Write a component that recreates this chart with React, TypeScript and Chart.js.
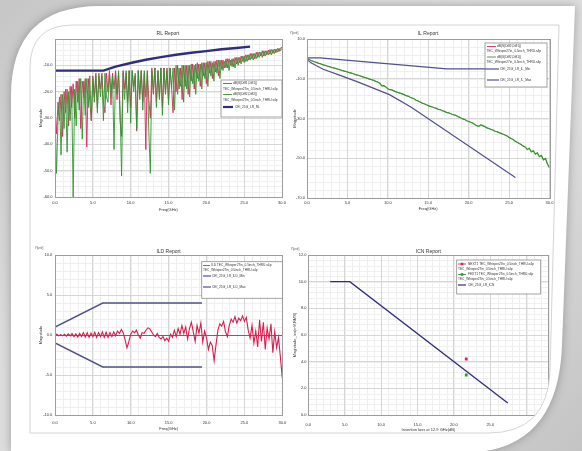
import React, { useEffect, useRef } from 'react';
import { Chart, registerables } from 'chart.js';

Chart.register(...registerables);

const FONT = '"Liberation Sans", Arial, sans-serif';
const TICK_FS = 4;
const AXIS_FS = 4;
const TITLE_FS = 5;
const LEG_FS = 3.2;

const RED = '#d8285a';
const GREEN = '#2f962f';
const NAVY = '#2e2e7c';
const SLATE = '#50508e';

// ---------------- RL Report ----------------
const RL_STEP_GHZ = 0.2;
const rlDiff1 = [
  -26, -36, -24, -31, -21, -37, -20, -28, -19, -33,
  -18, -26, -17, -30, -16, -24, -15, -34, -16, -22,
  -15, -41, -15, -24, -31, -14, -22, -13, -26, -14,
  -19, -13, -24, -28, -13, -20, -12, -25, -13, -19,
  -12, -23, -13, -31, -37, -12, -19, -13, -24, -12,
  -26, -12, -18, -14, -35, -12, -21, -12, -24, -13,
  -42, -12, -23, -30, -11, -21, -11, -24, -12, -22,
  -11, -26, -11, -20, -11, -23, -11, -18, -28, -11,
  -20, -10, -19, -11, -23, -10, -18, -10, -21, -10,
  -16, -9.5, -19, -9.5, -15, -9.5, -18, -9, -14, -9,
  -17, -8.5, -13, -8.5, -15, -8.5, -12.5, -8, -14, -8,
  -11.5, -8, -11, -7.5, -11, -7.5, -10, -7.5, -10.5, -7,
  -9.5, -7, -9, -6.5, -8.5, -6.5, -8.5, -6, -8, -5.5,
  -7.5, -5.5, -7.5, -5, -7, -5, -6.5, -4.5, -6.5, -4.5,
  -6, -4.2, -5.8, -4, -5.5, -3.8, -5.2, -3.6, -4.8, -3.4,
  -3.2,
];
const rlDiff2 = [
  -27, -51, -30, -22, -44, -21, -34, -19, -43, -20,
  -31, -18, -60, -19, -33, -16, -27, -15, -38, -16,
  -29, -15, -26, -14, -31, -15, -24, -14, -28, -13,
  -22, -14, -31, -13, -22, -24, -13, -20, -14, -42,
  -13, -21, -12, -26, -52, -13, -23, -12, -28, -12,
  -32, -12, -20, -13, -34, -12, -23, -12, -27, -12,
  -22, -13, -35, -51, -12, -20, -11, -26, -12, -23,
  -11, -29, -11, -21, -12, -25, -11, -19, -11, -27,
  -10, -21, -11, -18, -10, -24, -10, -19, -10, -22,
  -9.5, -17, -10, -21, -9, -16, -9.5, -19, -9, -15,
  -9, -18, -8.5, -14, -9, -16, -8.5, -13, -8, -15,
  -8, -12, -8.5, -11, -7.5, -12, -8, -10.5, -7.5, -11,
  -7, -10, -7, -9.5, -6.5, -9, -6, -8.5, -6, -8,
  -5.5, -8, -5.5, -7.5, -5, -7, -5, -7, -4.5, -6.5,
  -4.5, -6, -4, -6, -4, -5.5, -3.8, -5, -3.5, -4.5,
  -3.5,
];
const rlLimitFreq = [0, 6.4, 8, 10, 12, 14, 16, 18, 20, 22, 24, 25.78];
const rlLimitDb = [-12, -12, -10.5, -9.1, -7.9, -6.9, -6.0, -5.2, -4.6, -3.9, -3.4, -2.9];

// ---------------- IL Report ----------------
const IL_STEP_GHZ = 0.25;
const ilThru = [
  0.2, -0.3, -0.8, -1.2, -1.6, -1.9, -2.3, -2.6,
  -3.0, -3.3, -3.6, -3.9, -4.2, -4.5, -4.8, -5.1,
  -5.4, -5.7, -6.0, -6.3, -6.6, -6.9, -7.2, -7.5,
  -7.9, -8.2, -8.5, -8.8, -9.2, -9.5, -9.8, -10.2,
  -10.5, -10.8, -11.3, -11.6, -12.2, -13.6, -13.5, -14.1,
  -15.0, -15.5, -15.6, -16.1, -16.6, -16.9, -17.2, -17.6,
  -18.0, -18.5, -18.7, -19.3, -19.7, -20.1, -20.8, -21.2,
  -21.7, -22.3, -22.6, -23.1, -23.5, -23.9, -24.2, -24.6,
  -24.9, -25.4, -25.6, -26.1, -26.4, -26.9, -27.2, -27.5,
  -28.0, -28.2, -28.6, -29.2, -29.6, -30.2, -30.5, -31.1,
  -31.5, -31.9, -32.3, -33.0, -33.6, -33.9, -33.2, -33.6,
  -34.1, -34.7, -35.0, -35.5, -35.8, -36.4, -36.6, -37.1,
  -37.5, -37.9, -38.3, -38.8, -39.5, -40.1, -40.6, -41.4,
  -41.9, -42.6, -43.1, -43.9, -44.3, -45.6, -45.0, -46.8,
  -46.2, -47.9, -47.3, -49.2, -48.6, -50.8, -50.1, -52.9,
  -54.7,
];
const ilMinFreq = [0, 1.6, 17.3, 25.78];
const ilMinDb = [0.5, 0.5, -5, -5];
const ilMaxFreq = [0, 0.6, 2, 4.1, 6.1, 8.2, 10.2, 12.9, 25.78];
const ilMaxDb = [-0.5, -2.2, -5.2, -8.3, -11.3, -14.7, -18, -24.3, -59.7];

// ---------------- ILD Report ----------------
const ILD_STEP_GHZ = 0.25;
const ildThru = [
  0.0, 0.1, -0.1, 0.05, -0.1, 0.1, -0.15, 0.15,
  -0.1, 0.2, -0.2, 0.15, -0.25, 0.2, -0.2, 0.3,
  -0.25, 0.3, -0.3, 0.25, -0.2, 0.35, -0.3, 0.3,
  -0.2, 0.4, -0.3, 0.35, -0.3, 0.3, -0.2, 0.4,
  -0.1, 0.5, 0.2, 0.7, 0.3, -0.6, -1.6, -0.8,
  0.1, 0.5, 0.3, 0.6, 0.0, -0.4, 0.3, 0.2,
  0.6, 0.9, 0.8, 0.4, 0.0, -0.2, 0.2, -0.3,
  -0.5, -0.2, -0.7, -0.4, -0.8, 0.1, -0.3, 0.6,
  -0.2, 0.8, 0.1, 1.2, 0.2, 1.0, -0.5, 0.8,
  1.6, 0.4, -0.8, 1.2, 0.2, 1.5, -0.9, 0.5,
  -0.4, -1.8, -0.9, -1.3, -3.2, -1.2, 0.6, 1.4,
  1.1, 1.7, 0.4, -0.2, 1.2, 2.0, 1.6, 2.3,
  1.5, 2.1, 1.8, 2.4, 1.7, 2.2, 0.6, -0.4,
  1.2, -1.0, 0.5, -1.5, 1.9, -0.8, 1.6, -1.8,
  0.9, -0.5, 1.4, -2.2, 0.4, -1.6, -0.3, -2.8,
  -5.4,
];
const ildLimitFreq = [0, 6.3, 19.4];
const ildUpperDb = [1, 4, 4];
const ildLowerDb = [-1, -4, -4];

// ---------------- ICN Report ----------------
const icnLimitIL = [3.0, 5.7, 27.4];
const icnLimitMv = [10, 10, 0.9];
const icnNextIL = [21.7];
const icnNextMv = [4.2];
const icnFextIL = [21.7];
const icnFextMv = [3.0];

const THRU = 'TEC_Whisper27in_0.5inch_THRU.s4p';

const sampled = (step: number, vals: number[]) =>
  vals.map((y, i) => ({ x: Math.round(i * step * 100) / 100, y }));
const paired = (xs: number[], ys: number[]) => xs.map((x, i) => ({ x, y: ys[i] }));

const line = (label: string, data: any[], color: string, width: number, order: number) => ({
  label,
  data,
  borderColor: color,
  backgroundColor: color,
  borderWidth: width,
  pointRadius: 0,
  tension: 0,
  order,
});

const marker = (label: string, data: any[], color: string) => ({
  label,
  data,
  showLine: false,
  borderColor: color,
  backgroundColor: color,
  pointStyle: 'rect',
  pointRadius: 2,
  borderWidth: 0,
  order: 0,
});

type Row = { y: number; text: string; tx: number; line?: [number, number, string, number]; marker?: string };

const SPECS: any[] = [
  {
    cx: 30, cy: 22, cw: 262, ch: 196,
    L: 55, T: 39, R: 282, B: 197,
    yTitleX: 41, xTitleY: 209.5, xTickPad: 3.6, yTickPad: 2.5,
    title: 'RL Report', titleX: 168, titleY: 34,
    x: { min: 0, max: 30, step: 5, minor: 1, title: 'Freq(GHz)' },
    y: { min: -60, max: 0, step: 10, minor: 2, title: 'Magnitude', hide: [0] },
    datasets: [
      line('dB(S(Diff1,Diff1))', sampled(RL_STEP_GHZ, rlDiff1), RED, 0.9, 2),
      line('dB(S(Diff2,Diff2))', sampled(RL_STEP_GHZ, rlDiff2), GREEN, 0.9, 1),
      line('CEI_25G_LR_RL', paired(rlLimitFreq, rlLimitDb), NAVY, 2.4, 0),
    ],
    legend: {
      box: [221, 80, 282, 117],
      rows: [
        { y: 83.5, tx: 233, text: 'dB(S(Diff1,Diff1))', line: [223, 232, RED, 0.9] },
        { y: 89, tx: 223, text: THRU },
        { y: 94.5, tx: 233, text: 'dB(S(Diff2,Diff2))', line: [223, 232, GREEN, 0.9] },
        { y: 100, tx: 223, text: THRU },
        { y: 107, tx: 235, text: 'CEI_25G_LR_RL', line: [223, 233, NAVY, 2.2] },
      ] as Row[],
    },
  },
  {
    cx: 288, cy: 22, cw: 272, ch: 196,
    L: 307, T: 39, R: 549.5, B: 198,
    yTitleX: 294.5, xTitleY: 209.3, xTickPad: 2.5, yTickPad: 2,
    title: 'IL Report', titleX: 428, titleY: 34,
    unit: ['Y[unit]', 294, 33],
    x: { min: 0, max: 30, step: 5, minor: 1, title: 'Freq(GHz)' },
    y: { min: -70, max: 10, step: 20, minor: 4, title: 'Magnitude' },
    datasets: [
      line('dB(S(Diff2,Diff1))', sampled(IL_STEP_GHZ, ilThru), RED, 0.6, 2),
      line('dB(S(Diff2,Diff1))', sampled(IL_STEP_GHZ, ilThru), '#2c9a2c', 1.2, 1),
      line('CEI_25G_LR_IL_Min', paired(ilMinFreq, ilMinDb), SLATE, 1.2, 0),
      line('CEI_25G_LR_IL_Max', paired(ilMaxFreq, ilMaxDb), SLATE, 1.2, 0),
    ],
    legend: {
      box: [485, 43, 547, 87],
      rows: [
        { y: 46.5, tx: 497, text: 'dB(S(Diff2,Diff1))', line: [487, 496, RED, 0.9] },
        { y: 51.5, tx: 486.5, text: THRU },
        { y: 57, tx: 497, text: 'dB(S(Diff2,Diff1))', line: [487, 496, GREEN, 0.9] },
        { y: 62, tx: 486.5, text: THRU },
        { y: 69, tx: 500, text: 'CEI_25G_LR_IL_Min', line: [485, 499, SLATE, 1.2] },
        { y: 80, tx: 500, text: 'CEI_25G_LR_IL_Max', line: [487, 499, SLATE, 1.2] },
      ] as Row[],
    },
  },
  {
    cx: 30, cy: 240, cw: 262, ch: 195,
    L: 55, T: 255, R: 282.5, B: 415,
    yTitleX: 40.7, xTitleY: 429.3, xTickPad: 5.8, yTickPad: 2.7,
    title: 'ILD Report', titleX: 168.5, titleY: 251.7,
    unit: ['Y[unit]', 39, 248.5],
    x: { min: 0, max: 30, step: 5, minor: 1, title: 'Freq(GHz)' },
    y: { min: -10, max: 10, step: 5, minor: 1, title: 'Magnitude', zero: true },
    datasets: [
      line('ILD TEC', sampled(ILD_STEP_GHZ, ildThru), '#d81e4e', 1.1, 1),
      line('CEI_25G_LR_ILD_Min', paired(ildLimitFreq, ildUpperDb), SLATE, 1.4, 0),
      line('CEI_25G_LR_ILD_Max', paired(ildLimitFreq, ildLowerDb), SLATE, 1.4, 0),
    ],
    legend: {
      box: [201.7, 261.7, 282.5, 298.3],
      rows: [
        { y: 265.5, tx: 211, text: 'ILD ' + THRU, line: [203, 210, RED, 0.9] },
        { y: 270, tx: 203, text: THRU },
        { y: 276, tx: 212, text: 'CEI_25G_LR_ILD_Min', line: [203, 211, SLATE, 1.2] },
        { y: 287, tx: 212, text: 'CEI_25G_LR_ILD_Max', line: [203, 211, SLATE, 1.2] },
      ] as Row[],
    },
  },
  {
    cx: 288, cy: 240, cw: 272, ch: 195,
    L: 308.3, T: 255, R: 548.5, B: 415,
    yTitleX: 295, xTitleY: 430, xTickPad: 7.6, yTickPad: 1.8,
    title: 'ICN Report', titleX: 428.3, titleY: 251.7,
    unit: ['Y[unit]', 295, 249.5],
    x: { min: 0, max: 33, step: 5, minor: 1, title: 'Insertion loss at 12.9 GHz(dB)', hideFrom: 30, noBounds: true },
    y: { min: 0, max: 12, step: 2, minor: 0.4, title: 'Magnitude_icn(mV,RMS)' },
    datasets: [
      marker('NEXT1', paired(icnNextIL, icnNextMv), RED),
      marker('FEXT1', paired(icnFextIL, icnFextMv), GREEN),
      line('CEI_25G_LR_ICN', paired(icnLimitIL, icnLimitMv), NAVY, 1.3, 1),
    ],
    legend: {
      box: [456.7, 260, 540.7, 294],
      rows: [
        { y: 264, tx: 468, text: 'NEXT1 ' + THRU, line: [458, 466, RED, 0.9], marker: RED },
        { y: 268.7, tx: 458, text: THRU },
        { y: 274.5, tx: 468, text: 'FEXT1 ' + THRU, line: [458, 466, GREEN, 0.9], marker: GREEN },
        { y: 279.3, tx: 458, text: THRU },
        { y: 285, tx: 468, text: 'CEI_25G_LR_ICN', line: [458, 466, NAVY, 1.2] },
      ] as Row[],
    },
  },
];

function decoPlugin(s: any) {
  return {
    id: 'deco',
    beforeDraw(chart: any) {
      const { ctx, chartArea: a, scales } = chart;
      const xs = scales.x;
      const ys = scales.y;
      ctx.save();
      ctx.fillStyle = '#ffffff';
      ctx.fillRect(a.left, a.top, a.right - a.left, a.bottom - a.top);
      ctx.strokeStyle = '#efefef';
      ctx.lineWidth = 1;
      ctx.beginPath();
      const nx = Math.round((s.x.max - s.x.min) / s.x.minor);
      for (let i = 0; i <= nx; i++) {
        const p = Math.round(xs.getPixelForValue(s.x.min + i * s.x.minor)) + 0.5;
        ctx.moveTo(p, a.top);
        ctx.lineTo(p, a.bottom);
      }
      const ny = Math.round((s.y.max - s.y.min) / s.y.minor);
      for (let i = 0; i <= ny; i++) {
        const p = Math.round(ys.getPixelForValue(s.y.min + i * s.y.minor)) + 0.5;
        ctx.moveTo(a.left, p);
        ctx.lineTo(a.right, p);
      }
      ctx.stroke();
      ctx.restore();
    },
    afterDraw(chart: any) {
      const { ctx, chartArea: a } = chart;
      ctx.save();
      ctx.strokeStyle = '#9c9c9c';
      ctx.lineWidth = 1;
      ctx.strokeRect(Math.round(a.left) + 0.5, Math.round(a.top) + 0.5, Math.round(a.right - a.left), Math.round(a.bottom - a.top));
      ctx.fillStyle = '#333';
      ctx.font = `${TITLE_FS}px ${FONT}`;
      ctx.textAlign = 'center';
      ctx.textBaseline = 'middle';
      ctx.fillText(s.title, s.titleX - s.cx, s.titleY - s.cy);
      if (s.unit) {
        ctx.font = `3px ${FONT}`;
        ctx.fillStyle = '#555';
        ctx.fillText(s.unit[0], s.unit[1] - s.cx, s.unit[2] - s.cy);
      }
      const [x1, y1, x2, y2] = s.legend.box;
      ctx.fillStyle = '#fff';
      ctx.fillRect(x1 - s.cx, y1 - s.cy, x2 - x1, y2 - y1);
      ctx.strokeStyle = '#8c8c8c';
      ctx.lineWidth = 0.8;
      ctx.strokeRect(x1 - s.cx, y1 - s.cy, x2 - x1, y2 - y1);
      ctx.font = `${LEG_FS}px ${FONT}`;
      ctx.textAlign = 'left';
      ctx.textBaseline = 'middle';
      for (const r of s.legend.rows as Row[]) {
        const y = r.y - s.cy;
        if (r.line) {
          ctx.strokeStyle = r.line[2];
          ctx.lineWidth = r.line[3];
          ctx.beginPath();
          ctx.moveTo(r.line[0] - s.cx, y);
          ctx.lineTo(r.line[1] - s.cx, y);
          ctx.stroke();
          if (r.marker) {
            ctx.fillStyle = r.marker;
            const mx = (r.line[0] + r.line[1]) / 2 - s.cx;
            ctx.fillRect(mx - 1.3, y - 1.3, 2.6, 2.6);
          }
        }
        ctx.fillStyle = '#333';
        ctx.fillText(r.text, r.tx - s.cx, y, x2 - 1 - r.tx);
      }
      ctx.restore();
    },
  };
}

function buildConfig(s: any): any {
  const lh = AXIS_FS * 1.2;
  const yLeft = s.yTitleX - lh / 2;
  const xBottom = s.xTitleY + lh / 2;
  const padding = {
    left: yLeft - s.cx,
    top: s.T - s.cy,
    right: s.cx + s.cw - s.R,
    bottom: s.cy + s.ch - xBottom,
  };
  const yWidth = s.L - yLeft;
  const xHeight = xBottom - s.B;
  const tickFont = { size: TICK_FS, family: FONT };
  const axisFont = { size: AXIS_FS, family: FONT };
  return {
    type: 'line',
    data: { datasets: s.datasets },
    plugins: [decoPlugin(s)],
    options: {
      responsive: false,
      animation: false,
      events: [],
      devicePixelRatio: 1,
      layout: { padding },
      plugins: { legend: { display: false }, tooltip: { enabled: false }, title: { display: false } },
      scales: {
        x: {
          type: 'linear',
          min: s.x.min,
          max: s.x.max,
          ticks: {
            stepSize: s.x.step,
            font: tickFont,
            color: '#333',
            padding: s.xTickPad,
            maxRotation: 0,
            autoSkip: false,
            includeBounds: !s.x.noBounds,
            callback: (v: any) => (s.x.hideFrom !== undefined && v >= s.x.hideFrom ? '' : Number(v).toFixed(1)),
          },
          grid: { color: '#d6d6d6', drawTicks: false, lineWidth: 1 },
          border: { color: '#9c9c9c' },
          title: { display: true, text: s.x.title, font: axisFont, color: '#333', padding: 0 },
          afterFit: (sc: any) => { sc.height = xHeight; },
        },
        y: {
          type: 'linear',
          min: s.y.min,
          max: s.y.max,
          ticks: {
            stepSize: s.y.step,
            font: tickFont,
            color: '#333',
            padding: s.yTickPad,
            autoSkip: false,
            callback: (v: any) => (s.y.hide && s.y.hide.includes(v) ? '' : Number(v).toFixed(1)),
          },
          grid: {
            color: (c: any) => (s.y.zero && c.tick && c.tick.value === 0 ? '#6a6a6a' : '#d6d6d6'),
            drawTicks: false,
            lineWidth: 1,
          },
          border: { color: '#9c9c9c' },
          title: { display: true, text: s.y.title, font: axisFont, color: '#333', padding: 0 },
          afterFit: (sc: any) => { sc.width = yWidth; },
        },
      },
    },
  };
}

const OUTER = 'M 11 452 L 11 96 Q 11 6 100 6 L 575 6 L 562 345 C 560 400 540 446 478 452 Z';
const INNER = 'M 30 433 L 30 68 Q 30 25 73 25 L 559 25 L 550 372 Q 547 433 488 433 Z';

export default function App() {
  const canvases = useRef<(HTMLCanvasElement | null)[]>([]);
  useEffect(() => {
    const charts = SPECS.map((s, i) => new Chart(canvases.current[i] as HTMLCanvasElement, buildConfig(s)));
    return () => charts.forEach((c) => c.destroy());
  }, []);
  return (
    <div
      style={{
        position: 'fixed',
        left: 0,
        top: 0,
        width: 582,
        height: 451,
        overflow: 'hidden',
        background: 'linear-gradient(135deg, #c6c6c6 0%, #dcdcdc 35%, #dedede 65%, #c4c4c4 100%)',
      }}
    >
      <svg width={582} height={451} style={{ position: 'absolute', left: 0, top: 0 }}>
        <path d={OUTER} fill="#ffffff" style={{ filter: 'drop-shadow(0 0 5px rgba(0,0,0,0.28))' }} />
      </svg>
      <div
        style={{
          position: 'absolute',
          left: 0,
          top: 0,
          width: 582,
          height: 451,
          clipPath: `path('${INNER}')`,
          background: '#fff',
        }}
      >
        {SPECS.map((s, i) => (
          <canvas
            key={i}
            ref={(el) => { canvases.current[i] = el; }}
            width={s.cw}
            height={s.ch}
            style={{ position: 'absolute', left: s.cx, top: s.cy, width: s.cw, height: s.ch }}
          />
        ))}
      </div>
      <svg width={582} height={451} style={{ position: 'absolute', left: 0, top: 0, pointerEvents: 'none' }}>
        <path d={INNER} fill="none" stroke="#d4d4d4" strokeWidth={1} />
      </svg>
    </div>
  );
}
